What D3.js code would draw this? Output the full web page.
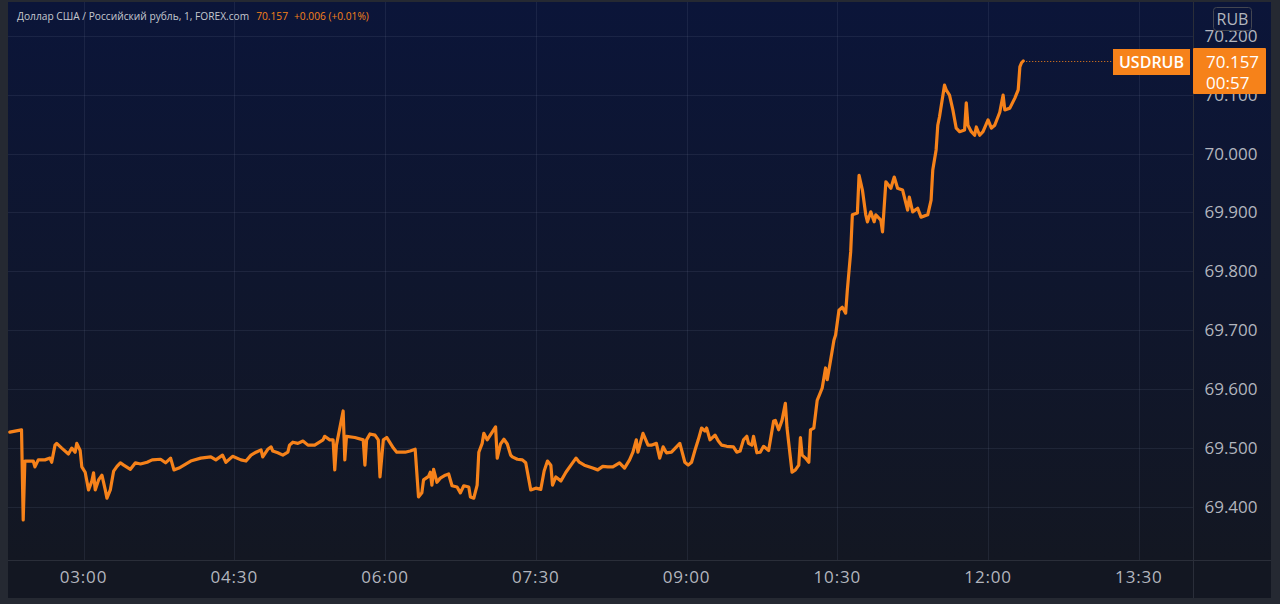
<!DOCTYPE html>
<html><head><meta charset="utf-8">
<script src="https://cdn.jsdelivr.net/npm/d3@7"></script>
<style>
html,body{margin:0;padding:0;background:#252932;overflow:hidden;}
svg{display:block;}
</style></head><body>
<svg id="c" width="1280" height="604"></svg>
<script>
// ---- DATA ----
const times = [
"02:16","02:23","02:24","02:25","02:30","02:31","02:33","02:37","02:40","02:41",
"02:43","02:44","02:47","02:51","02:53","02:55","02:56","02:58","02:59","03:01",
"03:03","03:05","03:06","03:07","03:09","03:11","03:13","03:14","03:16","03:18",
"03:20","03:22","03:24","03:28","03:31","03:34","03:38","03:41","03:46","03:49",
"03:52","03:54","03:57","04:00","04:04","04:10","04:16","04:19","04:23","04:25",
"04:29","04:34","04:37","04:40","04:43","04:46","04:47","04:50","04:52","04:53",
"04:56","04:59","05:02","05:03","05:05","05:08","05:11","05:14","05:18","05:23",
"05:24","05:27","05:29","05:30","05:31","05:35","05:36","05:37","05:42","05:47",
"05:48","05:49","05:51","05:54","05:56","05:57","05:59","06:01","06:05","06:07",
"06:12","06:15","06:18","06:20","06:22","06:23","06:26","06:27","06:28","06:29",
"06:31","06:33","06:36","06:38","06:40","06:43","06:45","06:47","06:50","06:51",
"06:53","06:55","06:56","06:58","06:59","07:01","07:04","07:06","07:07","07:09",
"07:11","07:13","07:15","07:16","07:19","07:22","07:24","07:27","07:30","07:33",
"07:35","07:37","07:39","07:40","07:42","07:45","07:48","07:51","07:54","07:56",
"07:59","08:04","08:07","08:10","08:13","08:16","08:20","08:23","08:26","08:28",
"08:30","08:31","08:34","08:37","08:39","08:42","08:44","08:46","08:48","08:51",
"08:54","08:56","08:59","09:01","09:03","09:05","09:07","09:09","09:11","09:12",
"09:14","09:17","09:19","09:21","09:24","09:28","09:30","09:32","09:34","09:36",
"09:37","09:39","09:40","09:42","09:44","09:46","09:49","09:52","09:53","09:55",
"09:57","09:59","10:00","10:03","10:05","10:07","10:08","10:09","10:11","10:13",
"10:14","10:16","10:18","10:21","10:23","10:24","10:26","10:28","10:29","10:31",
"10:33","10:35","10:36","10:38","10:39","10:42","10:43","10:45","10:47","10:48",
"10:50","10:52","10:53","10:56","10:57","10:59","11:02","11:04","11:06","11:09",
"11:12","11:13","11:15","11:18","11:20","11:24","11:26","11:27","11:29","11:30",
"11:31","11:34","11:35","11:37","11:39","11:41","11:43","11:46","11:47","11:48",
"11:50","11:52","11:53","11:55","11:57","12:00","12:02","12:04","12:07","12:09",
"12:10","12:13","12:16","12:18","12:19","12:20","12:21"
];
const prices = [
69.527,69.531,69.378,69.478,69.478,69.468,69.480,69.480,69.483,69.476,
69.505,69.508,69.500,69.490,69.500,69.493,69.508,69.496,69.468,69.459,
69.429,69.444,69.458,69.429,69.446,69.454,69.429,69.415,69.429,69.461,
69.469,69.475,69.471,69.464,69.475,69.473,69.476,69.480,69.481,69.475,
69.483,69.463,69.466,69.471,69.478,69.483,69.485,69.480,69.488,69.476,
69.486,69.480,69.478,69.488,69.493,69.497,69.485,69.498,69.502,69.495,
69.492,69.488,69.493,69.505,69.510,69.508,69.512,69.505,69.505,69.514,
69.520,69.514,69.514,69.463,69.505,69.563,69.480,69.520,69.518,69.514,
69.471,69.514,69.524,69.522,69.514,69.451,69.514,69.518,69.500,69.493,
69.493,69.495,69.498,69.417,69.424,69.446,69.452,69.459,69.437,69.464,
69.442,69.449,69.454,69.456,69.436,69.434,69.424,69.436,69.434,69.417,
69.415,69.437,69.493,69.508,69.525,69.514,69.527,69.536,69.483,69.507,
69.515,69.507,69.488,69.485,69.481,69.480,69.475,69.429,69.432,69.430,
69.461,69.478,69.471,69.437,69.451,69.444,69.459,69.471,69.483,69.476,
69.471,69.466,69.463,69.469,69.468,69.468,69.475,69.466,69.480,69.493,
69.514,69.493,69.525,69.505,69.505,69.508,69.483,69.502,69.492,69.493,
69.502,69.508,69.476,69.471,69.476,69.496,69.514,69.534,69.529,69.534,
69.514,69.522,69.512,69.505,69.503,69.502,69.493,69.495,69.514,69.520,
69.508,69.505,69.520,69.492,69.493,69.503,69.496,69.546,69.547,69.531,
69.547,69.576,69.534,69.459,69.463,69.471,69.518,69.488,69.483,69.476,
69.531,69.534,69.581,69.602,69.636,69.616,69.649,69.683,69.692,69.734,
69.739,69.729,69.768,69.833,69.896,69.899,69.963,69.938,69.896,69.884,
69.901,69.884,69.896,69.887,69.867,69.952,69.941,69.960,69.941,69.938,
69.904,69.926,69.901,69.907,69.892,69.896,69.921,69.972,70.006,70.048,
70.062,70.116,70.108,70.099,70.074,70.043,70.037,70.040,70.086,70.048,
70.037,70.031,70.045,70.031,70.037,70.057,70.043,70.048,70.070,70.099,
70.074,70.077,70.094,70.108,70.147,70.154,70.157
];
const priceTicks = [69.4, 69.5, 69.6, 69.7, 69.8, 69.9, 70.0, 70.1, 70.2];
const timeTicks = ["03:00","04:30","06:00","07:30","09:00","10:30","12:00","13:30"];
const titleText = "Доллар США / Российский рубль, 1, FOREX.com";
const lastPrice = 70.157;
const changeText = "+0.006 (+0.01%)";
const symbolText = "USDRUB";
const countdownText = "00:57";
const currencyText = "RUB";

// ---- LAYOUT ----
const L = 8, T = 2, PR = 1193, AR = 1271, PB = 560, B = 598;
const ORANGE = "#f6821a";
const FONT = "'Open Sans', sans-serif";
const parse = d3.timeParse("%H:%M");
const data = times.map((t, i) => ({t: parse(t), v: prices[i]}));

const x = d3.scaleTime().domain([parse("03:00"), parse("13:30")]).range([83.5, 1138.8]);
const y = d3.scaleLinear().domain([69.4, 70.0]).range([507, 153.5]);

const svg = d3.select("#c");
const defs = svg.append("defs");
const g1 = defs.append("linearGradient").attr("id","bg").attr("x1",0).attr("y1",0).attr("x2",0).attr("y2",1);
g1.append("stop").attr("offset","0%").attr("stop-color","#0b1539");
g1.append("stop").attr("offset","100%").attr("stop-color","#131722");
defs.append("clipPath").attr("id","clip").append("rect")
  .attr("x", L).attr("y", T).attr("width", PR - L).attr("height", PB - T);

svg.append("rect").attr("x", L).attr("y", T).attr("width", AR - L).attr("height", PB - T).attr("fill", "url(#bg)");
svg.append("rect").attr("x", L).attr("y", PB).attr("width", AR - L).attr("height", B - PB).attr("fill", "#131722");

// grid
const grid = svg.append("g").attr("stroke", "rgba(130,140,170,0.13)").attr("stroke-width", 1);
grid.selectAll("line.h").data(priceTicks).join("line")
  .attr("x1", L).attr("x2", PR).attr("y1", d => Math.round(y(d)) + 0.5).attr("y2", d => Math.round(y(d)) + 0.5);
grid.selectAll("line.v").data(timeTicks).join("line")
  .attr("y1", T).attr("y2", PB).attr("x1", d => Math.round(x(parse(d))) + 0.5).attr("x2", d => Math.round(x(parse(d))) + 0.5);

// separators
svg.append("line").attr("x1", PR + 0.5).attr("x2", PR + 0.5).attr("y1", T).attr("y2", B).attr("stroke", "#2a2e39");
svg.append("line").attr("x1", L).attr("x2", AR).attr("y1", PB + 0.5).attr("y2", PB + 0.5).attr("stroke", "#2a2e39");

// dotted last-price line
const lastX = x(data[data.length - 1].t);
svg.append("line").attr("x1", lastX).attr("x2", 1113).attr("y1", Math.round(y(lastPrice)) + 0.5).attr("y2", Math.round(y(lastPrice)) + 0.5)
  .attr("stroke", ORANGE).attr("stroke-width", 1).attr("stroke-dasharray", "1,2");

// line
svg.append("path").datum(data).attr("clip-path", "url(#clip)")
  .attr("fill", "none").attr("stroke", ORANGE).attr("stroke-width", 3.2)
  .attr("stroke-linejoin", "round").attr("stroke-linecap", "round")
  .attr("d", d3.line().x(d => x(d.t)).y(d => y(d.v)));

// y axis labels
const fmt = d3.format(".3f");
svg.append("g").selectAll("text").data(priceTicks).join("text")
  .attr("x", 1231).attr("y", d => y(d) + 6).attr("text-anchor", "middle")
  .attr("font-family", FONT).attr("font-size", 17).attr("fill", "#b2b5be")
  .text(d => fmt(d));

// x axis labels
svg.append("g").selectAll("text").data(timeTicks).join("text")
  .attr("x", d => x(parse(d))).attr("y", 583).attr("text-anchor", "middle")
  .attr("font-family", FONT).attr("font-size", 17).attr("letter-spacing", "0.8px").attr("fill", "#b2b5be")
  .text(d => d);

// title
const title = svg.append("text").attr("x", 17).attr("y", 19.5).attr("font-family", FONT).attr("font-size", 10.2).attr("font-weight", 500);
title.append("tspan").attr("fill", "#c5c8cf").text(titleText);
title.append("tspan").attr("fill", ORANGE).attr("dx", 7).text(fmt(lastPrice));
title.append("tspan").attr("fill", ORANGE).attr("dx", 6).text(changeText);

// currency box
svg.append("rect").attr("x", 1213.5).attr("y", 7.5).attr("width", 38).attr("height", 23).attr("rx", 3)
  .attr("fill", "#0b1539").attr("stroke", "#434651");
svg.append("text").attr("x", 1232.5).attr("y", 25).attr("text-anchor", "middle")
  .attr("font-family", FONT).attr("font-size", 16).attr("fill", "#b2b5be").text(currencyText);

// symbol label
svg.append("rect").attr("x", 1113).attr("y", 49).attr("width", 77).attr("height", 26).attr("fill", ORANGE);
svg.append("text").attr("x", 1151.5).attr("y", 68.3).attr("text-anchor", "middle")
  .attr("font-family", FONT).attr("font-size", 16).attr("font-weight", 600).attr("fill", "#ffffff").text(symbolText);

// price label
svg.append("rect").attr("x", 1193).attr("y", 48).attr("width", 73).attr("height", 46).attr("rx", 1).attr("fill", ORANGE);
svg.append("text").attr("x", 1206).attr("y", 68.3)
  .attr("font-family", FONT).attr("font-size", 17).attr("font-weight", 500).attr("fill", "#ffffff").text(fmt(lastPrice));
svg.append("text").attr("x", 1206).attr("y", 89.3)
  .attr("font-family", FONT).attr("font-size", 17).attr("fill", "#ffffff").text(countdownText);
</script>
</body></html>
